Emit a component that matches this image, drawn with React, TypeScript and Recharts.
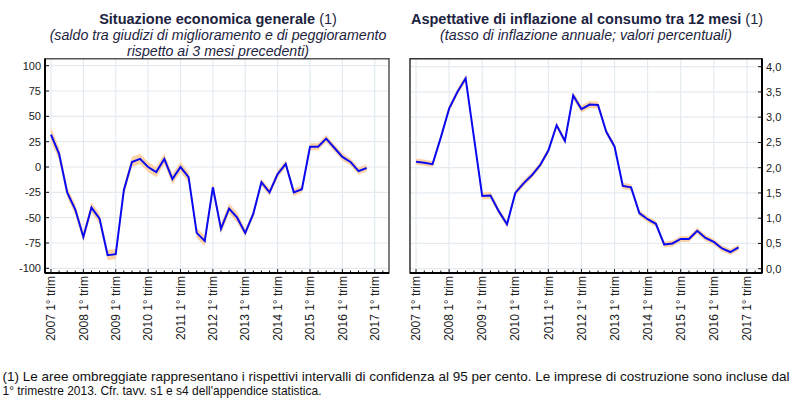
import React from 'react';
import { ComposedChart, Line, Area, XAxis, YAxis, CartesianGrid, ReferenceArea } from 'recharts';

// ---- categories / tick labels ----
const years = [2007, 2008, 2009, 2010, 2011, 2012, 2013, 2014, 2015, 2016, 2017];
const leftYTicks = [-100, -75, -50, -25, 0, 25, 50, 75, 100];
const rightYTicks = [0, 0.5, 1, 1.5, 2, 2.5, 3, 3.5, 4];

// ---- series: quarterly, from 2007 Q1 to 2016 Q4 ----
const economia = [
  32, 13, -25, -42,
  -69, -40, -51, -87,
  -86, -23, 5, 8,
  0, -5, 8, -12,
  0, -10, -65, -73,
  -20, -61, -41, -50,
  -65, -46, -15, -25,
  -7, 3, -25, -22,
  20, 20, 28, 19,
  10, 5, -4, -1,
];
// half-width of the 95% confidence band
const economiaCI = [
  7, 6, 5, 5,
  5, 5, 5, 5,
  5, 5, 5, 5,
  5, 5, 5, 5,
  5, 5, 5, 5,
  5, 5, 5, 5,
  3.5, 3.5, 3.5, 3.5,
  3.5, 3.5, 3.5, 3.5,
  3.5, 3.5, 3.5, 3.5,
  3.5, 3.5, 3.5, 3.5,
];

const inflazione = [
  2.12, 2.10, 2.07, 2.6,
  3.17, 3.5, 3.77, 2.6,
  1.44, 1.45, 1.14, 0.88,
  1.5, 1.69, 1.85, 2.05,
  2.34, 2.84, 2.53, 3.43,
  3.16, 3.25, 3.24, 2.71,
  2.42, 1.64, 1.61, 1.10,
  0.98, 0.89, 0.48, 0.50,
  0.59, 0.59, 0.75, 0.61,
  0.53, 0.40, 0.33, 0.42,
];
const inflazioneCI = [
  0.06, 0.06, 0.06, 0.06,
  0.06, 0.06, 0.07, 0.06,
  0.07, 0.07, 0.06, 0.06,
  0.06, 0.06, 0.06, 0.06,
  0.06, 0.06, 0.06, 0.07,
  0.07, 0.07, 0.07, 0.06,
  0.06, 0.06, 0.06, 0.06,
  0.06, 0.06, 0.06, 0.06,
  0.06, 0.06, 0.06, 0.06,
  0.06, 0.06, 0.06, 0.06,
];

const leftData = economia.map((v, i) => ({ q: i, v, band: [v - economiaCI[i], v + economiaCI[i]] }));
const rightData = inflazione.map((v, i) => ({ q: i, v, band: [v - inflazioneCI[i], v + inflazioneCI[i]] }));

const quarterTicks = Array.from({ length: years.length * 4 - 2 }, (_, i) => i);
const yearTicks = years.map((_, i) => i * 4);

const FONT = '"Liberation Sans", Arial, Helvetica, sans-serif';
const NARROW = '"Liberation Sans Narrow", "Arial Narrow", "Liberation Sans", sans-serif';
const LINE_COLOR = '#0a0af2';
const BAND_COLOR = '#fcd2a6';
const GRID_COLOR = '#e3ebef';
const TITLE_COLOR = '#1c2340';

const XTick = (props: any) => {
  const { x, y, payload } = props;
  const v = payload.value as number;
  const isYear = v % 4 === 0;
  const label = isYear && v / 4 < years.length ? `${years[v / 4]} 1° trim` : null;
  return (
    <g>
      <line x1={x} x2={x} y1={y} y2={y - (isYear ? 4 : 2.5)} stroke="#111" strokeWidth={1} />
      {label && (
        <text
          transform={`translate(${x},${y + 3}) rotate(-90)`}
          textAnchor="end"
          dy="0.35em"
          fontSize={12}
          fill="#222"
          fontFamily={FONT}
        >
          {label}
        </text>
      )}
    </g>
  );
};

const LeftYTick = (props: any) => {
  const { x, y, payload } = props;
  return (
    <g>
      <line x1={x} x2={x + 4} y1={y} y2={y} stroke="#111" strokeWidth={1} />
      <text x={x - 4} y={y} dy="0.35em" textAnchor="end" fontSize={11} fill="#222" fontFamily={FONT}>
        {String(payload.value)}
      </text>
    </g>
  );
};

const RightYTick = (props: any) => {
  const { x, y, payload } = props;
  return (
    <g>
      <line x1={x} x2={x - 4} y1={y} y2={y} stroke="#111" strokeWidth={1} />
      <text x={x + 4} y={y} dy="0.35em" textAnchor="start" fontSize={11} fill="#222" fontFamily={FONT}>
        {(payload.value as number).toFixed(1).replace('.', ',')}
      </text>
    </g>
  );
};

const L_X: [number, number] = [-0.74, 41.76];
const L_Y: [number, number] = [-104.6, 106.9];
const R_X: [number, number] = [-0.73, 41.83];
const R_Y: [number, number] = [-0.085, 4.158];

export default function App() {
  return (
    <div style={{ position: 'absolute', left: 0, top: 0, width: 800, height: 400, background: '#fff' }}>
      <div style={{ position: 'absolute', left: 0, top: 0 }}>
        <ComposedChart width={400} height={360} data={leftData} margin={{ top: 58.7, right: 11, bottom: 17, left: 0 }}>
          <CartesianGrid stroke={GRID_COLOR} strokeWidth={1.2} verticalValues={yearTicks} horizontalValues={leftYTicks} />
          <ReferenceArea x1={L_X[0]} x2={L_X[1]} y1={L_Y[0]} y2={L_Y[1]} fill="none" stroke="#555" strokeWidth={1.5} ifOverflow="visible" />
          <XAxis
            dataKey="q"
            type="number"
            domain={L_X}
            allowDataOverflow
            ticks={quarterTicks}
            interval={0}
            tickSize={0}
            tickMargin={0}
            height={70}
            tick={<XTick />}
            tickLine={false}
            axisLine={{ stroke: '#000', strokeWidth: 2 }}
          />
          <YAxis
            type="number"
            domain={L_Y}
            allowDataOverflow
            ticks={leftYTicks}
            interval={0}
            width={45}
            tickSize={0}
            tickMargin={0}
            tick={<LeftYTick />}
            tickLine={false}
            axisLine={{ stroke: '#000', strokeWidth: 2 }}
          />
          <Area dataKey="band" stroke="none" fill={BAND_COLOR} fillOpacity={1} isAnimationActive={false} />
          <Line dataKey="v" stroke={LINE_COLOR} strokeWidth={2} dot={false} isAnimationActive={false} />
        </ComposedChart>
      </div>
      <div style={{ position: 'absolute', left: 400, top: 0 }}>
        <ComposedChart width={400} height={360} data={rightData} margin={{ top: 58.7, right: 0, bottom: 17, left: 10 }}>
          <CartesianGrid stroke={GRID_COLOR} strokeWidth={1.2} verticalValues={yearTicks} horizontalValues={rightYTicks} />
          <ReferenceArea x1={R_X[0]} x2={R_X[1]} y1={R_Y[0]} y2={R_Y[1]} fill="none" stroke="#333" strokeWidth={1.5} ifOverflow="visible" />
          <XAxis
            dataKey="q"
            type="number"
            domain={R_X}
            allowDataOverflow
            ticks={quarterTicks}
            interval={0}
            tickSize={0}
            tickMargin={0}
            height={70}
            tick={<XTick />}
            tickLine={false}
            axisLine={{ stroke: '#000', strokeWidth: 2 }}
          />
          <YAxis
            orientation="right"
            type="number"
            domain={R_Y}
            allowDataOverflow
            ticks={rightYTicks}
            interval={0}
            width={38}
            tickSize={0}
            tickMargin={0}
            tick={<RightYTick />}
            tickLine={false}
            axisLine={{ stroke: '#000', strokeWidth: 2 }}
          />
          <Area dataKey="band" stroke="none" fill={BAND_COLOR} fillOpacity={1} isAnimationActive={false} />
          <Line dataKey="v" stroke={LINE_COLOR} strokeWidth={2} dot={false} isAnimationActive={false} />
        </ComposedChart>
      </div>
      <svg width={800} height={400} style={{ position: 'absolute', left: 0, top: 0, pointerEvents: 'none' }} fontFamily={FONT}>
        <text x={218} y={24} textAnchor="middle" fontSize={14.5} fill={TITLE_COLOR}>
          <tspan fontWeight="bold">Situazione economica generale</tspan>
          <tspan> (1)</tspan>
        </text>
        <text x={218} y={40} textAnchor="middle" fontSize={14.2} fontStyle="italic" fill={TITLE_COLOR}>
          (saldo tra giudizi di miglioramento e di peggioramento
        </text>
        <text x={218} y={55.5} textAnchor="middle" fontSize={14.2} fontStyle="italic" fill={TITLE_COLOR}>
          rispetto ai 3 mesi precedenti)
        </text>
        <text x={587} y={23.5} textAnchor="middle" fontSize={14.5} fill={TITLE_COLOR}>
          <tspan fontWeight="bold">Aspettative di inflazione al consumo tra 12 mesi</tspan>
          <tspan> (1)</tspan>
        </text>
        <text x={586} y={39.5} textAnchor="middle" fontSize={14.2} fontStyle="italic" fill={TITLE_COLOR}>
          (tasso di inflazione annuale; valori percentuali)
        </text>
        <text x={2.5} y={380.5} fontSize={13.5} fill="#111" textLength={787} lengthAdjust="spacingAndGlyphs" fontFamily={NARROW}>
          (1) Le aree ombreggiate rappresentano i rispettivi intervalli di confidenza al 95 per cento. Le imprese di costruzione sono incluse dal
        </text>
        <text x={2.5} y={394.5} fontSize={13.5} fill="#111" textLength={319} lengthAdjust="spacingAndGlyphs" fontFamily={NARROW}>
          1° trimestre 2013. Cfr. tavv. s1 e s4 dell'appendice statistica.
        </text>
      </svg>
    </div>
  );
}
